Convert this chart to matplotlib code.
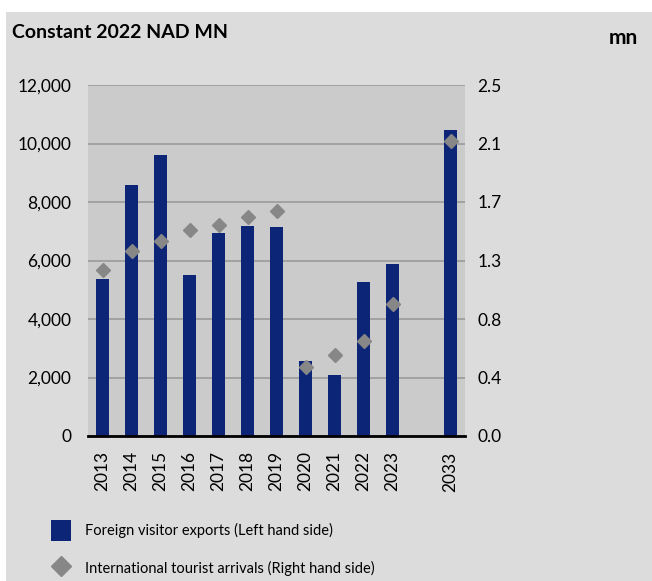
import matplotlib
matplotlib.use("Agg")
import matplotlib.pyplot as plt
import numpy as np
from matplotlib.patches import Rectangle
from matplotlib.lines import Line2D

# data
years = ["2013", "2014", "2015", "2016", "2017", "2018", "2019",
         "2020", "2021", "2022", "2023", "", "2033"]
exports = [5360, 8580, 9600, 5510, 6930, 7180, 7150,
           2560, 2070, 5280, 5870, np.nan, 10470]
arrivals = [1.18, 1.32, 1.39, 1.47, 1.50, 1.56, 1.60,
            0.49, 0.58, 0.68, 0.94, np.nan, 2.10]
left_ticks = [0, 2000, 4000, 6000, 8000, 10000, 12000]
right_ticks = np.linspace(0, 2.5, 7)

navy = "#0c2577"
grey = "#878787"
plt.rcParams["font.family"] = ["Lato", "DejaVu Sans"]

fig = plt.figure(figsize=(6.52, 5.81), dpi=100, facecolor="white")
fig.patches.append(Rectangle((6 / 652, 0), 1, 1 - 12 / 581, transform=fig.transFigure,
                             facecolor="#dcdcdc", edgecolor="none", zorder=-10))

ax = fig.add_axes([88 / 652, 1 - 436 / 581, 377 / 652, 351 / 581])
ax.set_facecolor("#cbcbcb")
x = np.arange(len(years))
ax.bar(x, exports, width=0.42, color=navy, zorder=3)
ax.set_xlim(-0.5, len(years) - 0.5)
ax.set_ylim(0, 12000)
ax.set_yticks(left_ticks)
ax.set_yticklabels([f"{v:,}" for v in left_ticks])
ax.set_xticks(x)
ax.set_xticklabels(years, rotation=90)
ax.tick_params(axis="y", length=0, pad=12, labelsize=12.5)
ax.tick_params(axis="x", length=0, pad=11, labelsize=12.5)
ax.grid(axis="y", color="#9a9a9a", linewidth=1.2, zorder=1)
for s in ["top", "left", "right"]:
    ax.spines[s].set_visible(False)
ax.spines["bottom"].set_color("black")
ax.spines["bottom"].set_linewidth(2)
ax.spines["bottom"].set_zorder(5)

ax2 = ax.twinx()
ax2.plot(x, arrivals, linestyle="none", marker="D", ms=7, color=grey, zorder=4)
ax2.set_ylim(0, 2.5)
ax2.set_yticks(right_ticks)
ax2.set_yticklabels([f"{v + 1e-9:.1f}" for v in right_ticks])
ax2.tick_params(axis="y", length=0, pad=9, labelsize=12.5)
for s in ax2.spines.values():
    s.set_visible(False)

fig.text(12 / 652, 1 - 33 / 581, "Constant 2022 NAD MN", fontsize=14,
         fontweight="bold", va="center", ha="left")
fig.text(638 / 652, 1 - 38 / 581, "mn", fontsize=15, fontweight="bold",
         va="center", ha="right")

handles = [Rectangle((0, 0), 1, 1, facecolor=navy, edgecolor="none"),
           Line2D([], [], linestyle="none", marker="D", ms=10.5, color=grey)]
labels = ["Foreign visitor exports (Left hand side)",
          "International tourist arrivals (Right hand side)"]
fig.legend(handles, labels, loc="upper left", bbox_to_anchor=(51 / 652, 1 - 520 / 581),
           frameon=False, fontsize=10.5, handlelength=1.35, handleheight=1.85,
           handletextpad=1.0, labelspacing=1.15, borderpad=0, borderaxespad=0)

fig.savefig("out.png", dpi=100, facecolor="white")
